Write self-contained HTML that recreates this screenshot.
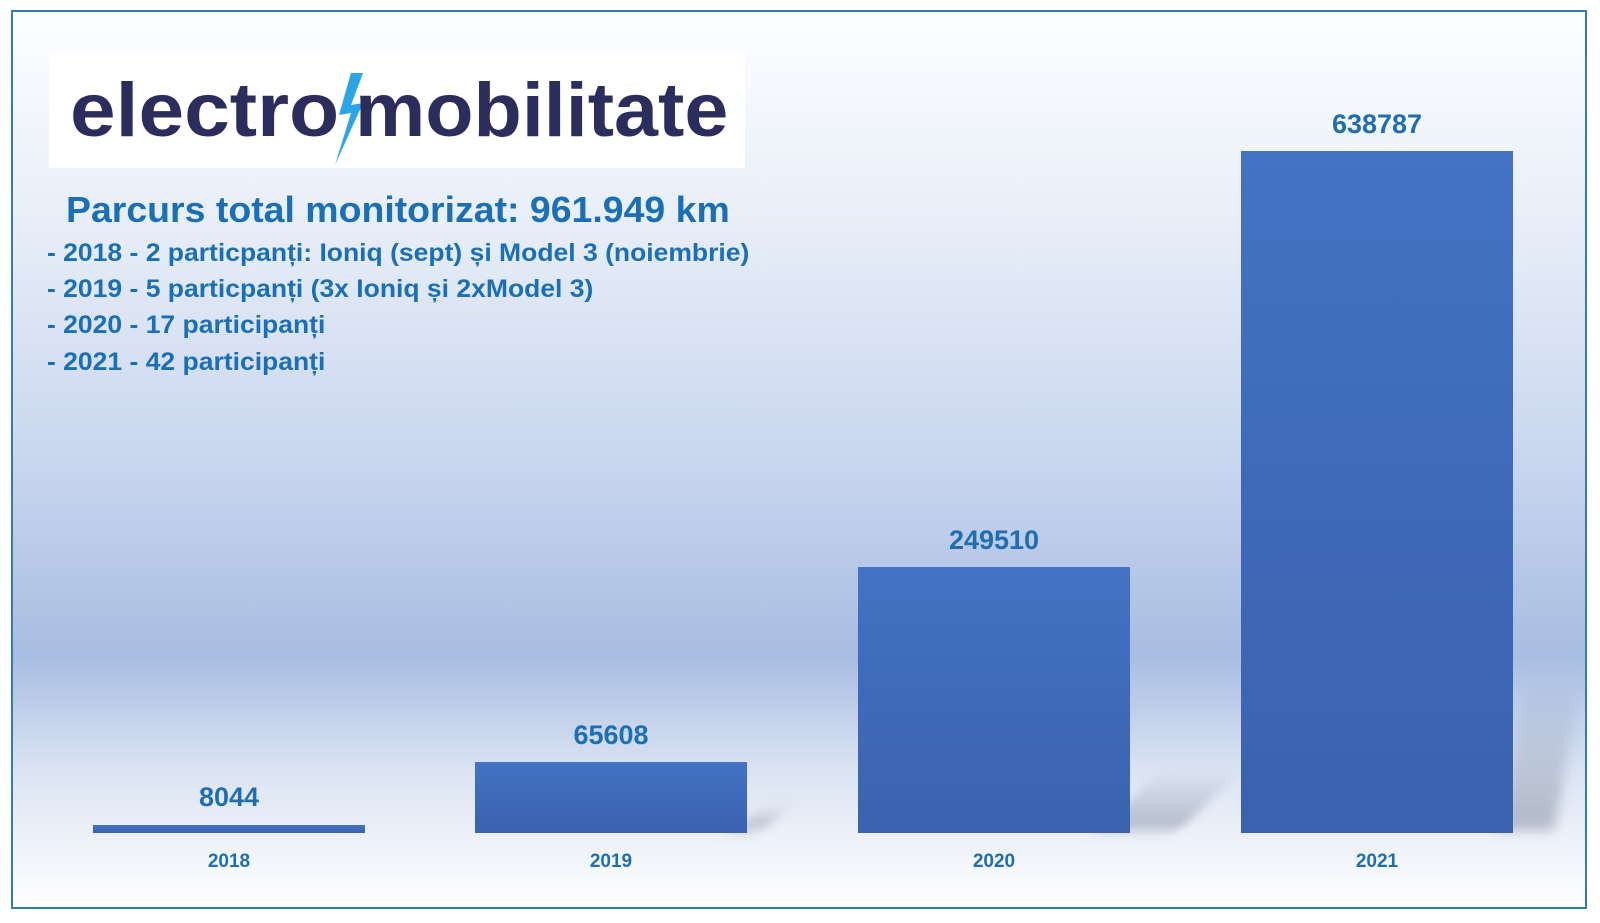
<!DOCTYPE html>
<html><head><meta charset="utf-8"><style>
*{margin:0;padding:0}
body{width:1600px;height:923px;background:#fff;position:relative;overflow:hidden;font-family:"Liberation Sans",sans-serif}
#frame{position:absolute;left:11px;top:10px;width:1576px;height:899px;border:2px solid #2f7fa8;box-sizing:border-box;
background:linear-gradient(to bottom,#fdfeff 0%,#e6edf8 25%,#c9d6ee 50%,#a8bde2 72%,#dbe4f3 85%,#ffffff 100%)}
.bar{position:absolute;background:linear-gradient(to bottom,#4472c4,#3a62ae)}
.sh{position:absolute;background:linear-gradient(to bottom,rgba(120,130,150,0.0),rgba(120,130,150,0.5));filter:blur(6px)}
.val{position:absolute;width:272px;text-align:center;font-weight:bold;font-size:27px;color:#1f6fb0}
.yr{position:absolute;width:272px;text-align:center;font-weight:bold;font-size:19px;color:#1f6fb0;top:851px}
#logo{position:absolute;left:49px;top:53px;width:696px;height:115px;background:#fff}
#logo span{position:absolute;top:14px;font-weight:bold;font-size:76px;color:#2b2d5c;transform-origin:0 0}
.t{position:absolute;left:47px;font-weight:bold;color:#1a6fb5;font-size:25px;white-space:nowrap;transform-origin:0 0}
</style></head><body>
<div id="frame"></div>
<div class="sh" style="left:1513px;top:675px;width:55px;height:155px;transform:skewX(-10deg)"></div>
<div class="sh" style="left:1130px;top:770px;width:80px;height:60px;transform:skewX(-45deg)"></div>
<div class="sh" style="left:747px;top:805px;width:30px;height:25px;transform:skewX(-45deg)"></div>
<div class="bar" style="left:93px;top:825px;width:272px;height:8px"></div>
<div class="bar" style="left:475px;top:762px;width:272px;height:71px"></div>
<div class="bar" style="left:858px;top:567px;width:272px;height:266px"></div>
<div class="bar" style="left:1241px;top:151px;width:272px;height:682px"></div>
<div class="val" style="left:93px;top:782px">8044</div>
<div class="val" style="left:475px;top:720px">65608</div>
<div class="val" style="left:858px;top:525px">249510</div>
<div class="val" style="left:1241px;top:109px">638787</div>
<div class="yr" style="left:93px">2018</div>
<div class="yr" style="left:475px">2019</div>
<div class="yr" style="left:858px">2020</div>
<div class="yr" style="left:1241px">2021</div>
<div id="logo"><span style="left:21px;transform:scaleX(1.08)">electro</span>
<svg style="position:absolute;left:280px;top:20px" width="40" height="92" viewBox="0 0 40 92"><polygon points="22,0 10,42 22,40 6,92 34,30 22,32 34,0" fill="#2aa5e8"/></svg>
<span style="left:306px;transform:scaleX(1.04)">mobilitate</span></div>
<div class="t" style="left:66px;top:189px;font-size:36px;transform:scaleX(1.04)">Parcurs total monitorizat: 961.949 km</div>
<div class="t" style="top:239px;transform:scaleX(1.06)">- 2018 - 2 particpanți: Ioniq (sept) și Model 3 (noiembrie)</div>
<div class="t" style="top:275px;transform:scaleX(1.06)">- 2019 - 5 particpanți (3x Ioniq și 2xModel 3)</div>
<div class="t" style="top:311px;transform:scaleX(1.06)">- 2020 - 17 participanți</div>
<div class="t" style="top:348px;transform:scaleX(1.06)">- 2021 - 42 participanți</div>
</body></html>
